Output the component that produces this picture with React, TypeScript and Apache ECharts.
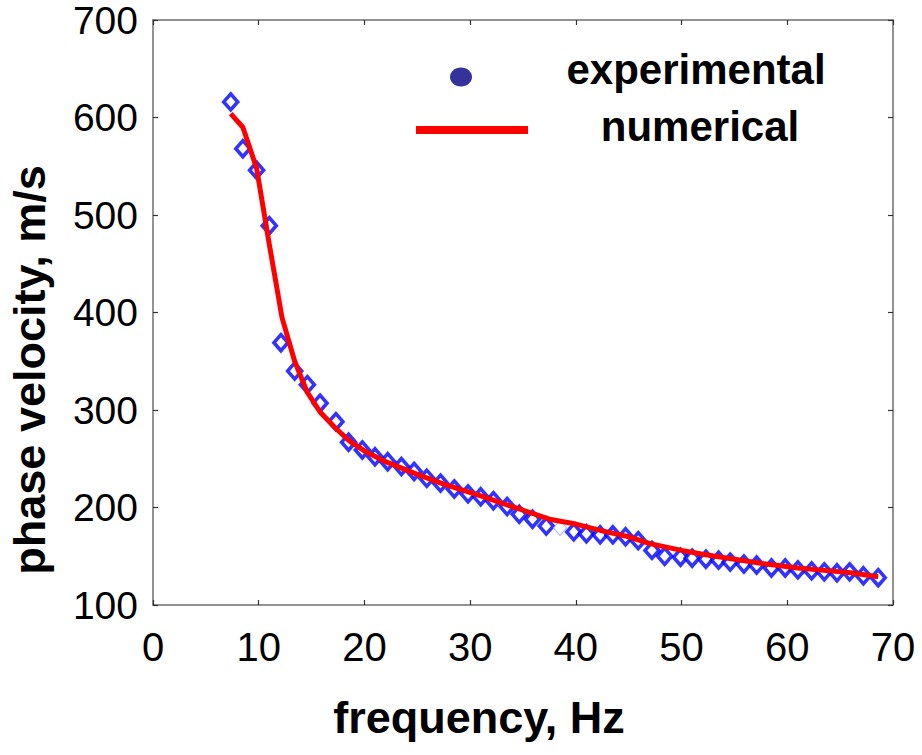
import React, { useEffect, useRef } from "react";
import * as echarts from "echarts";

// experimental points [frequency Hz, phase velocity m/s]
const experimental: [number, number][] = [
  [7.35, 616], [8.5, 568], [9.8, 546], [11.0, 489], [12.1, 369], [13.4, 340],
  [14.6, 326], [15.8, 307], [17.3, 288], [18.5, 267], [19.8, 259], [21.0, 252],
  [22.2, 247], [23.5, 242], [24.7, 237], [25.9, 230], [27.2, 225], [28.5, 219],
  [29.8, 214], [31.0, 211], [32.2, 207], [33.5, 201], [34.65, 193], [35.9, 188],
  [37.2, 181], [39.8, 175], [41.0, 173], [42.3, 172], [43.5, 172], [44.7, 170],
  [45.9, 166], [47.2, 156], [48.4, 150], [49.9, 149], [51.0, 148], [52.3, 147],
  [53.5, 146], [54.6, 144], [55.9, 142], [57.1, 141], [58.5, 138], [59.8, 138],
  [61.0, 136], [62.3, 135], [63.5, 134], [64.7, 133], [65.9, 134], [67.2, 130],
  [68.6, 128],
];
// one faint (light) experimental marker
const experimentalFaint: [number, number][] = [[38.5, 179]];

// numerical curve [frequency Hz, phase velocity m/s]
const numerical: [number, number][] = [
  [7.35, 604], [8.5, 590], [9.8, 548], [11.0, 470], [12.2, 395], [13.4, 350],
  [14.6, 318], [15.8, 298], [17.3, 281], [18.6, 268], [20.0, 258], [22.0, 247],
  [25.0, 234], [27.5, 224], [31.0, 212], [34.5, 199], [37.5, 188], [40.0, 183],
  [42.5, 176], [45.0, 170], [47.0, 163], [50.0, 156], [52.0, 152], [55.0, 147],
  [58.0, 142], [61.0, 138], [64.0, 135], [66.0, 133], [68.6, 129],
];

const xTicks = { min: 0, max: 70, interval: 10 };
const yTicks = { min: 100, max: 700, interval: 100 };

const xTitle = "frequency, Hz";
const yTitle = "phase velocity, m/s";
const legendNames = ["experimental", "numerical"];

const FONT = '"Liberation Sans", Arial, Helvetica, sans-serif';

export default function App() {
  const ref = useRef<HTMLDivElement>(null);
  useEffect(() => {
    if (!ref.current) return;
    const chart = echarts.init(ref.current, null, { renderer: "svg" });
    const frame = { show: true, lineStyle: { color: "#6e6e6e", width: 1.5 } };
    const ticksIn = { show: true, inside: true, length: 5, lineStyle: { color: "#333", width: 1.2 } };
    chart.setOption({
      animation: false,
      backgroundColor: "#ffffff",
      grid: { left: 153, right: 29, top: 20, bottom: 150, containLabel: false },
      xAxis: [
        {
          type: "value", position: "bottom", ...xTicks,
          axisLine: { ...frame, onZero: false }, axisTick: ticksIn, splitLine: { show: false },
          axisLabel: { fontFamily: FONT, fontSize: 40, color: "#000", margin: 22 },
        },
        {
          type: "value", position: "top", ...xTicks,
          axisLine: { ...frame, onZero: false }, axisTick: ticksIn, splitLine: { show: false },
          axisLabel: { show: false },
        },
      ],
      yAxis: [
        {
          type: "value", position: "left", ...yTicks,
          axisLine: { ...frame, onZero: false }, axisTick: ticksIn, splitLine: { show: false },
          axisLabel: { fontFamily: FONT, fontSize: 39, color: "#000", margin: 15 },
        },
        {
          type: "value", position: "right", ...yTicks,
          axisLine: { ...frame, onZero: false }, axisTick: ticksIn, splitLine: { show: false },
          axisLabel: { show: false },
        },
      ],
      series: [
        {
          name: legendNames[0], type: "scatter", data: experimental,
          symbol: "diamond", symbolSize: [14, 16],
          itemStyle: { color: "#ffffff", borderColor: "#0000ff", borderWidth: 3.6 },
          z: 2,
        },
        {
          name: legendNames[0] + " (faint)", type: "scatter", data: experimentalFaint,
          symbol: "diamond", symbolSize: [13, 15],
          itemStyle: { color: "#ffffff", borderColor: "#9aa0ff", borderWidth: 1 },
          z: 2,
        },
        {
          name: legendNames[1], type: "line", data: numerical,
          showSymbol: false, smooth: false,
          lineStyle: { color: "#ff0000", width: 5 },
          z: 3,
        },
      ],
      graphic: [
        {
          type: "ellipse", shape: { cx: 461, cy: 77, rx: 11, ry: 9.5 },
          style: { fill: "#333399" },
        },
        {
          type: "line", shape: { x1: 416, y1: 130, x2: 528, y2: 130 },
          style: { stroke: "#ff0000", lineWidth: 8 },
        },
        {
          type: "text", x: 696, y: 69,
          style: { text: legendNames[0], font: `bold 42px ${FONT}`, fill: "#000", align: "center", verticalAlign: "middle" },
        },
        {
          type: "text", x: 700, y: 126,
          style: { text: legendNames[1], font: `bold 42px ${FONT}`, fill: "#000", align: "center", verticalAlign: "middle" },
        },
        {
          type: "text", x: 479, y: 717,
          style: { text: xTitle, font: `bold 45px ${FONT}`, fill: "#000", align: "center", verticalAlign: "middle" },
        },
        {
          type: "text", x: 29, y: 370, rotation: Math.PI / 2,
          style: { text: yTitle, font: `bold 45px ${FONT}`, fill: "#000", align: "center", verticalAlign: "middle" },
        },
      ],
    });
    return () => chart.dispose();
  }, []);
  return (
    <div
      ref={ref}
      style={{ position: "fixed", left: 0, top: 0, width: 922, height: 755, background: "#fff" }}
    />
  );
}
